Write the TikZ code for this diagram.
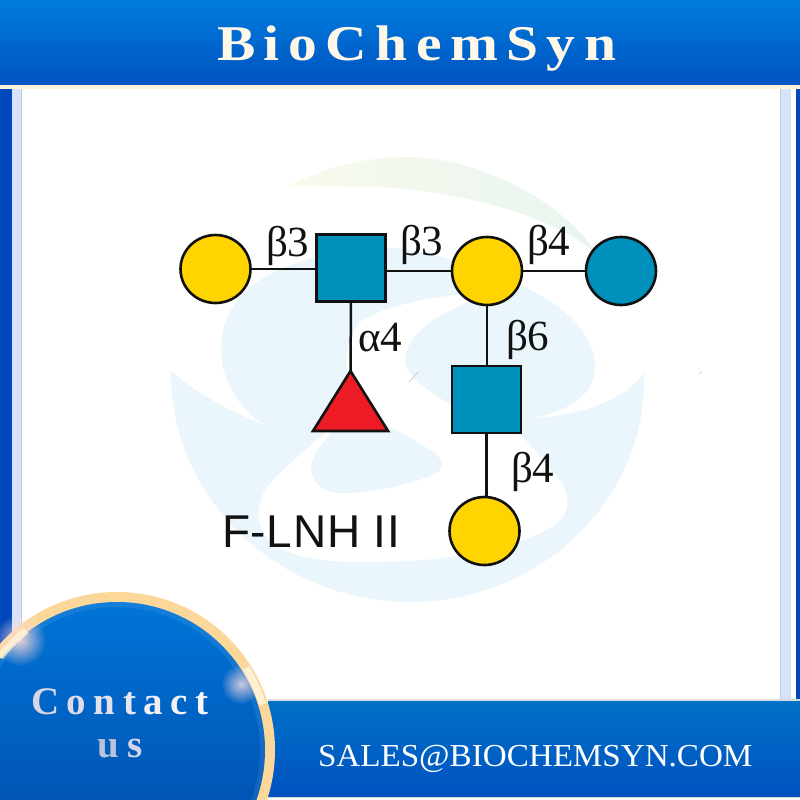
\documentclass[tikz,border=0pt]{standalone}
\usepackage{fontspec}
\setmainfont{Liberation Serif}
\newfontfamily\sansf{Liberation Sans}
\usetikzlibrary{shapes.geometric,fadings}
\definecolor{wm}{HTML}{EBF6FC}
\definecolor{swl}{HTML}{F8FAEC}
\definecolor{swr}{HTML}{E9F5EF}
\definecolor{hdtop}{HTML}{007DDD}
\definecolor{hdbot}{HTML}{0052C0}
\definecolor{sidedark}{HTML}{0048BB}
\definecolor{sidelight}{HTML}{D6E4FB}
\definecolor{edgegray}{HTML}{C4CAD4}
\definecolor{cream}{HTML}{FFF3D8}
\definecolor{ring}{HTML}{FBD899}
\definecolor{galy}{HTML}{FFD400}
\definecolor{glcb}{HTML}{0090BC}
\definecolor{fucr}{HTML}{ED1C24}
\definecolor{ink}{HTML}{111111}
\definecolor{ca}{HTML}{D8D6E2}
\definecolor{cb}{HTML}{DDDBE6}
\definecolor{cc}{HTML}{E3E1EA}
\definecolor{cd}{HTML}{E9E7EE}
\definecolor{ce}{HTML}{F0EEF4}
\definecolor{cf}{HTML}{F4F2F7}
\definecolor{cg}{HTML}{F8F6FA}
\definecolor{cu}{HTML}{BAC3DA}
\definecolor{cs}{HTML}{D2D6E6}
\tikzfading[name=glowfade,inner color=transparent!0,outer color=transparent!100]
\newcommand{\lgap}{\kern 7.6pt\relax}
\tikzset{
 x=1pt,y=-1pt,
 glyph/.style={draw=ink,line width=2.6pt,inner sep=0pt,outer sep=0pt},
 galnode/.style={glyph,ellipse,fill=galy,minimum width=70pt,minimum height=68pt},
 gluenode/.style={glyph,ellipse,fill=glcb,minimum width=70pt,minimum height=68pt},
 sqnode/.style={glyph,rectangle,fill=glcb,minimum width=69pt,minimum height=67pt},
 trinode/.style={glyph,isosceles triangle,isosceles triangle stretches,shape border rotate=90,fill=fucr,minimum width=75pt,minimum height=60pt},
 link/.style={draw=ink,line width=2.5pt},
 lbl/.style={anchor=base west,inner sep=0pt,outer sep=0pt,text=ink,font=\fontsize{43}{43}\selectfont},
 banner/.style={anchor=base west,inner sep=0pt,outer sep=0pt},
}
\begin{document}
\begin{tikzpicture}
\useasboundingbox (0,0) rectangle (800,800);
\fill[white] (0,0) rectangle (800,800);
% side bars
\fill[sidedark] (0,88) rectangle (12,700);
\fill[sidelight] (12,88) rectangle (21.5,700);
\fill[edgegray] (21,88) rectangle (22,700);
\fill[sidelight] (780,88) rectangle (790.7,700);
\fill[edgegray] (780,88) rectangle (781,700);
\fill[sidedark] (796,88) rectangle (800,700);
% watermark: green swoosh
\shade[left color=swl,right color=swr]
 (287,187) .. controls (330,165) and (370,157) .. (407,157)
 .. controls (470,157) and (560,195) .. (598,256)
 .. controls (570,225) and (470,186) .. (347,186)
 .. controls (325,186) and (305,185) .. (287,187) -- cycle;
% watermark: disc body
\fill[wm]
 (171,371) .. controls (170,500) and (280,602) .. (410,602)
 .. controls (540,602) and (648,500) .. (644,373)
 .. controls (625,400) and (580,416) .. (533,418)
 .. controls (570,410) and (597,395) .. (595,362)
 .. controls (590,320) and (540,290) .. (500,278)
 .. controls (460,262) and (420,248) .. (387,248)
 .. controls (320,250) and (221,270) .. (221,350)
 .. controls (221,380) and (240,410) .. (265,425)
 .. controls (230,412) and (195,392) .. (171,371) -- cycle;
% watermark: white swirl
\fill[white]
 (490,293) .. controls (440,294) and (385,305) .. (360,322)
 .. controls (345,340) and (345,365) .. (350,385)
 -- (325,433)
 .. controls (300,455) and (275,475) .. (265,490)
 .. controls (252,515) and (260,540) .. (283,550)
 .. controls (315,562) and (340,562) .. (367,562)
 .. controls (400,562) and (430,560) .. (450,557)
 .. controls (490,550) and (540,540) .. (560,520)
 .. controls (575,505) and (565,480) .. (550,470)
 .. controls (540,458) and (530,445) .. (523,437)
 .. controls (500,425) and (470,415) .. (443,400)
 .. controls (425,388) and (403,375) .. (405,357)
 .. controls (410,330) and (440,312) .. (490,293) -- cycle;
% watermark: lower blob
\fill[wm]
 (350,385) -- (330,435)
 .. controls (315,450) and (308,465) .. (312,473)
 .. controls (316,490) and (330,494) .. (350,493)
 .. controls (385,491) and (425,480) .. (438,472)
 .. controls (446,465) and (442,458) .. (430,450)
 .. controls (415,440) and (400,432) .. (390,427) -- cycle;
\draw[gray!50,line width=.5pt] (409,382) -- (418,372);
\draw[gray!40,line width=.5pt] (699,374) -- (702,371);
% glycan nodes
\node[galnode] (gala) at (215.5,269) {};
\node[sqnode] (glcnaca) at (351,268) {};
\node[galnode] (galb) at (487,271) {};
\node[gluenode] (glc) at (621,271) {};
\node[trinode,anchor=apex] (fuc) at (350.5,371) {};
\node[sqnode] (glcnacb) at (486.5,399.5) {};
\node[galnode] (galc) at (484.5,531) {};
\draw[link] (gala.east) -- (glcnaca.west |- gala.east);
\draw[link] (glcnaca.east |- galb.west) -- (galb.west);
\draw[link] (galb.east) -- (glc.west);
\draw[link] (glcnaca.south) -- (fuc.apex);
\draw[link] (galb.south) -- (galb.south |- glcnacb.north);
\draw[link] (glcnacb.south) -- (glcnacb.south |- galc.north);
% linkage labels
\node[lbl] (l1) at (266,256) {β3};
\node[lbl] (l2) at (400,255) {β3};
\node[lbl] (l3) at (527,255) {β4};
\node[lbl] (l4) at (358,351) {α4};
\node[lbl] (l5) at (506,350) {β6};
\node[lbl] (l6) at (511,482) {β4};
\node[anchor=base west,inner sep=0pt,text=ink,font=\sansf\fontsize{46}{46}\selectfont\addfontfeature{LetterSpace=1.5}] (title) at (222,547) {F-LNH II};
% header
\shade[top color=hdtop,bottom color=hdbot] (0,0) rectangle (800,85);
\fill[cream] (0,85) rectangle (800,88.5);
\node[banner,text=cream!60!white,font=\bfseries\fontsize{50}{50}\selectfont\addfontfeature{FakeStretch=1.15,LetterSpace=17}] (brand) at (217,60) {BioChemSyn};
% footer bar
\fill[edgegray!70!white] (268,699) rectangle (800,800);
\shade[top color=hdtop!90!black,bottom color=hdbot] (268,701) rectangle (800,796.5);
\fill[white] (268,798) rectangle (800,800);
\node[banner,text=white,font=\fontsize{32}{32}\selectfont\addfontfeature{FakeStretch=1.035}] (mail) at (318,766) {SALES@BIOCHEMSYN.COM};
% contact circle
\begin{scope}
\clip (0,0) rectangle (800,800);
\fill[ring] (117,750) circle[radius=158];
\shade[top color=hdtop!80!hdbot,bottom color=hdbot!85!black] (117,750) circle[radius=148];
\draw[white,opacity=.08,line width=5pt] (117,750) circle[radius=145.5];
\fill[pink!60!white,opacity=.9,path fading=glowfade] (20,640) circle[radius=26];
\fill[pink!50!white,opacity=.8,path fading=glowfade] (241,684) circle[radius=20];
\draw[cream,line width=7pt,opacity=.8] (0,657) arc[start angle=218,end angle=232,radius=153];
\draw[cream,line width=7pt,opacity=.9] (246,668) arc[start angle=-32,end angle=-17,radius=153];
\end{scope}
\node[banner,font=\bfseries\fontsize{39}{39}\selectfont] (ct) at (31,714) {\textcolor{ca}{C}\lgap\textcolor{cb}{o}\lgap\textcolor{cc}{n}\lgap\textcolor{cd}{t}\lgap\textcolor{ce}{a}\lgap\textcolor{cf}{c}\lgap\textcolor{cg}{t}};
\node[banner,font=\bfseries\fontsize{39}{39}\selectfont] (us) at (97,757) {\textcolor{cu}{u}\kern 9pt\relax\textcolor{cs}{s}};
\end{tikzpicture}
\end{document}
